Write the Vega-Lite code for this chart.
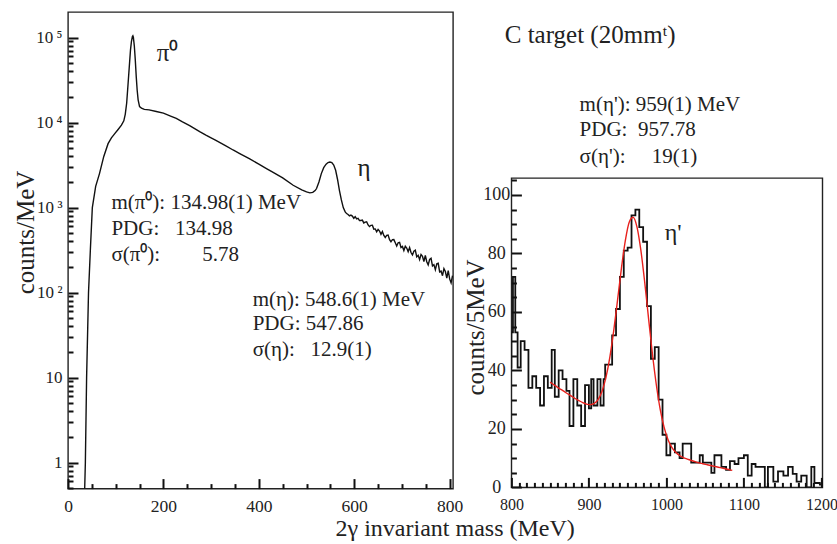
{
  "$schema": "https://vega.github.io/schema/vega-lite/v6.json",
  "background": "white",
  "padding": {"left": 12, "top": 11, "right": 0, "bottom": 5},
  "config": {
    "font": "Liberation Serif",
    "view": {"stroke": "#222", "strokeWidth": 1.4},
    "text": {"font": "Liberation Serif", "color": "#222"},
    "axis": {"labelFont": "Liberation Serif", "titleFont": "Liberation Serif", "titleFontWeight": "normal", "labelColor": "#222", "titleColor": "#222", "grid": false, "labelFontSize": 17.5, "labelFlush": false}
  },
  "datasets": {
    "spectrum": [
      {"m": 34, "c": 0.3}, {"m": 36.4, "c": 1}, {"m": 39, "c": 10}, {"m": 43, "c": 100}, {"m": 47, "c": 330}, {"m": 51, "c": 1000}, {"m": 58, "c": 1780}, {"m": 66, "c": 2510}, {"m": 75, "c": 4000}, {"m": 84, "c": 5650}, {"m": 91, "c": 6600}, {"m": 98, "c": 7420}, {"m": 105, "c": 8300}, {"m": 112, "c": 9330}, {"m": 117, "c": 10500}, {"m": 120, "c": 12500}, {"m": 123, "c": 17000}, {"m": 126, "c": 29000}, {"m": 129, "c": 50000}, {"m": 131, "c": 71700}, {"m": 133, "c": 90000}, {"m": 135, "c": 103000}, {"m": 136, "c": 105000}, {"m": 137, "c": 101000}, {"m": 139, "c": 80000}, {"m": 141, "c": 55000}, {"m": 143, "c": 35000}, {"m": 145, "c": 24000}, {"m": 147, "c": 18500}, {"m": 150, "c": 15400}, {"m": 154, "c": 14800}, {"m": 160, "c": 14300}, {"m": 170, "c": 14100}, {"m": 185, "c": 13500}, {"m": 200, "c": 12900}, {"m": 215, "c": 11900}, {"m": 227, "c": 11200}, {"m": 240, "c": 10200}, {"m": 255, "c": 9230}, {"m": 276, "c": 7840}, {"m": 290, "c": 7080}, {"m": 310, "c": 6170}, {"m": 330, "c": 5370}, {"m": 346, "c": 4760}, {"m": 360, "c": 4320}, {"m": 380, "c": 3760}, {"m": 400, "c": 3240}, {"m": 416, "c": 2880}, {"m": 430, "c": 2600}, {"m": 450, "c": 2240}, {"m": 472, "c": 1830}, {"m": 490, "c": 1620}, {"m": 500, "c": 1530}, {"m": 507, "c": 1490}, {"m": 513, "c": 1510}, {"m": 518, "c": 1585}, {"m": 521, "c": 1675}, {"m": 526, "c": 2000}, {"m": 531, "c": 2510}, {"m": 536, "c": 2950}, {"m": 541, "c": 3240}, {"m": 545, "c": 3390}, {"m": 549, "c": 3440}, {"m": 553, "c": 3390}, {"m": 557, "c": 3160}, {"m": 561, "c": 2750}, {"m": 565, "c": 2140}, {"m": 569, "c": 1585}, {"m": 573, "c": 1230}, {"m": 577, "c": 1000}, {"m": 581, "c": 890}, {"m": 584, "c": 850},
      {"m": 587, "c": 830}, {"m": 590, "c": 799}, {"m": 593, "c": 816}, {"m": 596, "c": 794}, {"m": 599, "c": 749}, {"m": 602, "c": 781}, {"m": 605, "c": 737}, {"m": 608, "c": 746}, {"m": 611, "c": 704}, {"m": 614, "c": 705}, {"m": 617, "c": 713}, {"m": 620, "c": 660}, {"m": 623, "c": 675}, {"m": 626, "c": 681}, {"m": 629, "c": 625}, {"m": 632, "c": 597}, {"m": 635, "c": 618}, {"m": 638, "c": 620}, {"m": 641, "c": 558}, {"m": 644, "c": 561}, {"m": 647, "c": 519}, {"m": 650, "c": 553}, {"m": 653, "c": 529}, {"m": 656, "c": 485}, {"m": 659, "c": 522}, {"m": 662, "c": 470}, {"m": 665, "c": 445}, {"m": 668, "c": 470}, {"m": 671, "c": 475}, {"m": 674, "c": 420}, {"m": 677, "c": 396}, {"m": 680, "c": 419}, {"m": 683, "c": 420}, {"m": 686, "c": 386}, {"m": 689, "c": 353}, {"m": 692, "c": 385}, {"m": 695, "c": 390}, {"m": 698, "c": 339}, {"m": 701, "c": 349}, {"m": 704, "c": 312}, {"m": 707, "c": 351}, {"m": 710, "c": 334}, {"m": 713, "c": 302}, {"m": 716, "c": 339}, {"m": 719, "c": 296}, {"m": 722, "c": 277}, {"m": 725, "c": 307}, {"m": 728, "c": 315}, {"m": 731, "c": 263}, {"m": 734, "c": 274}, {"m": 737, "c": 244}, {"m": 740, "c": 281}, {"m": 743, "c": 267}, {"m": 746, "c": 232}, {"m": 749, "c": 273}, {"m": 752, "c": 231}, {"m": 755, "c": 212}, {"m": 758, "c": 245}, {"m": 761, "c": 253}, {"m": 764, "c": 206}, {"m": 767, "c": 213}, {"m": 770, "c": 186}, {"m": 773, "c": 218}, {"m": 776, "c": 221}, {"m": 779, "c": 175}, {"m": 782, "c": 179}, {"m": 785, "c": 158}, {"m": 788, "c": 191}, {"m": 791, "c": 177}, {"m": 794, "c": 148}, {"m": 797, "c": 181}, {"m": 800, "c": 145}, {"m": 803, "c": 130}, {"m": 806, "c": 158}
    ],
    "leftPeaks": [
      {"m": 186, "c": 65300, "t": "π⁰"},
      {"m": 607, "c": 2900, "t": "η"}
    ],
    "leftStats": [
      {"m": 91, "c": 1124, "t": "m(π⁰): 134.98(1) MeV"},
      {"m": 91, "c": 556, "t": "PDG:\u00a0\u2007134.98"},
      {"m": 91, "c": 275, "t": "σ(π⁰):\u2007\u2007\u2007\u20075.78"},
      {"m": 387, "c": 81.2, "t": "m(η): 548.6(1) MeV"},
      {"m": 387, "c": 42.4, "t": "PDG: 547.86"},
      {"m": 387, "c": 20.9, "t": "σ(η):\u00a0\u200712.9(1)"}
    ],
    "hist": [
      {"m": 797, "n": 41}, {"m": 800, "n": 53}, {"m": 802, "n": 72}, {"m": 805, "n": 53}, {"m": 808, "n": 41}, {"m": 812, "n": 50}, {"m": 817, "n": 47}, {"m": 822, "n": 34}, {"m": 827, "n": 38}, {"m": 832, "n": 34}, {"m": 837, "n": 28}, {"m": 842, "n": 38}, {"m": 847, "n": 34}, {"m": 852, "n": 47}, {"m": 856, "n": 31}, {"m": 861, "n": 40}, {"m": 866, "n": 37}, {"m": 871, "n": 33}, {"m": 875, "n": 21}, {"m": 880, "n": 37}, {"m": 885, "n": 28}, {"m": 890, "n": 21}, {"m": 895, "n": 35}, {"m": 900, "n": 27}, {"m": 903, "n": 37}, {"m": 906, "n": 28}, {"m": 911, "n": 37}, {"m": 915, "n": 28}, {"m": 919, "n": 37}, {"m": 921, "n": 42}, {"m": 925, "n": 42}, {"m": 930, "n": 52}, {"m": 935, "n": 61}, {"m": 940, "n": 72}, {"m": 945, "n": 81}, {"m": 950, "n": 82}, {"m": 955, "n": 93}, {"m": 960, "n": 95}, {"m": 965, "n": 89}, {"m": 970, "n": 84}, {"m": 975, "n": 62}, {"m": 980, "n": 44}, {"m": 985, "n": 48}, {"m": 990, "n": 30}, {"m": 995, "n": 18}, {"m": 1000, "n": 11}, {"m": 1005, "n": 15}, {"m": 1011, "n": 12}, {"m": 1017, "n": 10}, {"m": 1021, "n": 15}, {"m": 1032, "n": 8.5}, {"m": 1043, "n": 11}, {"m": 1047, "n": 8.5}, {"m": 1058, "n": 5}, {"m": 1062, "n": 11}, {"m": 1071, "n": 7}, {"m": 1077, "n": 6}, {"m": 1082, "n": 9}, {"m": 1088, "n": 8}, {"m": 1093, "n": 10}, {"m": 1100, "n": 11}, {"m": 1105, "n": 4}, {"m": 1110, "n": 8}, {"m": 1115, "n": 7}, {"m": 1120, "n": 7}, {"m": 1127, "n": 0}, {"m": 1131, "n": 7}, {"m": 1138, "n": 2}, {"m": 1144, "n": 5.5}, {"m": 1151, "n": 4}, {"m": 1157, "n": 7}, {"m": 1163, "n": 4.6}, {"m": 1168, "n": 2}, {"m": 1174, "n": 4}, {"m": 1181, "n": 0}, {"m": 1187, "n": 7}, {"m": 1191, "n": 1.5}, {"m": 1198, "n": 1}, {"m": 1202, "n": 1}
    ],
    "fit": [
      {"m": 850, "n": 36.0}, {"m": 852, "n": 35.6}, {"m": 857, "n": 34.7}, {"m": 862, "n": 33.8}, {"m": 867, "n": 33.0}, {"m": 872, "n": 32.1}, {"m": 877, "n": 31.3}, {"m": 882, "n": 30.4}, {"m": 887, "n": 29.7}, {"m": 892, "n": 29.0}, {"m": 897, "n": 28.5}, {"m": 902, "n": 28.3}, {"m": 907, "n": 28.7}, {"m": 912, "n": 30.1}, {"m": 917, "n": 32.9}, {"m": 922, "n": 37.6}, {"m": 927, "n": 44.5}, {"m": 932, "n": 53.5}, {"m": 937, "n": 64.1}, {"m": 942, "n": 75.0}, {"m": 947, "n": 84.4}, {"m": 952, "n": 90.7}, {"m": 957, "n": 92.4}, {"m": 962, "n": 89.1}, {"m": 967, "n": 81.2}, {"m": 972, "n": 70.2}, {"m": 977, "n": 57.7}, {"m": 982, "n": 45.6}, {"m": 987, "n": 35.1}, {"m": 992, "n": 26.7}, {"m": 997, "n": 20.6}, {"m": 1002, "n": 16.4}, {"m": 1007, "n": 13.7}, {"m": 1012, "n": 12.0}, {"m": 1017, "n": 10.9}, {"m": 1022, "n": 10.2}, {"m": 1027, "n": 9.7}, {"m": 1032, "n": 9.2}, {"m": 1037, "n": 8.8}, {"m": 1042, "n": 8.4}, {"m": 1047, "n": 8.1}, {"m": 1052, "n": 7.8}, {"m": 1057, "n": 7.5}, {"m": 1062, "n": 7.2}, {"m": 1067, "n": 6.9}, {"m": 1072, "n": 6.6}, {"m": 1077, "n": 6.3}, {"m": 1082, "n": 6.0}, {"m": 1085, "n": 5.8}
    ],
    "rightPeak": [{"m": 997.8, "n": 87.1, "t": "η'"}],
    "rtTitle": [{"tx": 791.4, "ty": 154.5, "t": "C target (20mmᵗ)"}],
    "rtStats": [
      {"tx": 888, "ty": 130.5, "t": "m(η'): 959(1) MeV"},
      {"tx": 888, "ty": 122.0, "t": "PDG:\u00a0\u00a0957.78"},
      {"tx": 888, "ty": 112.8, "t": "σ(η'):\u00a0\u2007\u200719(1)"}
    ]
  },
  "bounds": "flush",
  "spacing": 58.4,
  "resolve": {"scale": {"x": "independent", "y": "independent"}},
  "hconcat": [
    {
      "width": 385,
      "height": 476.6,
      "resolve": {"axis": {"x": "independent", "y": "independent"}},
      "layer": [
        {
          "data": {"name": "spectrum"},
          "mark": {"type": "line", "color": "#111", "strokeWidth": 1.4, "clip": true},
          "encoding": {
            "x": {
              "field": "m", "type": "quantitative",
              "scale": {"domain": [0, 807], "nice": false, "zero": false},
              "axis": {
                "orient": "bottom", "tickSize": -10, "tickColor": "#111", "tickWidth": 2, "domain": false, "labelFlush": false,
                "title": "2γ invariant mass (MeV)", "titleFontSize": 24, "titleX": 386.7, "titleY": 47, "titleAlign": "center", "titleBaseline": "alphabetic",
                "values": [0, 200, 400, 600, 800],
                "labelPadding": 19
              }
            },
            "y": {
              "field": "c", "type": "quantitative",
              "scale": {"type": "log", "domain": [0.494, 200000], "nice": false},
              "axis": {
                "orient": "left", "tickSize": -10, "tickColor": "#111", "tickWidth": 2, "domain": false, "labelFlush": false,
                "title": "counts/MeV", "titleFontSize": 25, "titleAngle": -90, "titleX": -43, "titleY": 220, "titleAlign": "center", "titleBaseline": "middle",
                "values": [1, 10, 100, 1000, 10000, 100000],
                "labelExpr": "datum.value == 1 ? '1' : datum.value == 10 ? '10' : datum.value == 100 ? '10\u2009²' : datum.value == 1000 ? '10\u2009³' : datum.value == 10000 ? '10\u2009⁴' : '10\u2009⁵'",
                "labelPadding": 16, "labelBaseline": "middle", "labelFontSize": 17
              }
            }
          }
        },
        {
          "data": {"name": "leftPeaks"},
          "mark": {"type": "text", "align": "left", "baseline": "middle", "fontSize": 25},
          "encoding": {
            "x": {"field": "m", "type": "quantitative", "axis": null},
            "y": {"field": "c", "type": "quantitative", "axis": null},
            "text": {"field": "t"}
          }
        },
        {
          "data": {"name": "leftStats"},
          "mark": {"type": "text", "align": "left", "baseline": "middle", "fontSize": 21},
          "encoding": {
            "x": {
              "field": "m", "type": "quantitative",
              "axis": {"orient": "bottom", "tickSize": -5, "tickColor": "#111", "tickWidth": 2, "domain": false, "labels": false, "title": null,
                "values": [50, 100, 150, 250, 300, 350, 450, 500, 550, 650, 700, 750]}
            },
            "y": {
              "field": "c", "type": "quantitative",
              "axis": {"orient": "left", "tickSize": -5, "tickColor": "#111", "tickWidth": 2, "domain": false, "labels": false, "title": null,
                "values": [0.5, 0.6, 0.7, 0.8, 0.9, 2, 3, 4, 5, 6, 7, 8, 9, 20, 30, 40, 50, 60, 70, 80, 90, 200, 300, 400, 500, 600, 700, 800, 900, 2000, 3000, 4000, 5000, 6000, 7000, 8000, 9000, 20000, 30000, 40000, 50000, 60000, 70000, 80000, 90000]}
            },
            "text": {"field": "t"}
          }
        }
      ]
    },
    {
      "vconcat": [
        {
          "width": 311,
          "height": 165.6,
          "view": {"stroke": null},
          "layer": [
            {
              "data": {"name": "rtTitle"},
              "mark": {"type": "text", "align": "left", "baseline": "middle", "fontSize": 25},
              "encoding": {
                "x": {"field": "tx", "type": "quantitative", "scale": {"domain": [800, 1201.3], "nice": false, "zero": false}, "axis": null},
                "y": {"field": "ty", "type": "quantitative", "scale": {"domain": [105.8, 162.4], "nice": false, "zero": false}, "axis": null},
                "text": {"field": "t"}
              }
            },
            {
              "data": {"name": "rtStats"},
              "mark": {"type": "text", "align": "left", "baseline": "middle", "fontSize": 21},
              "encoding": {
                "x": {"field": "tx", "type": "quantitative", "axis": null},
                "y": {"field": "ty", "type": "quantitative", "axis": null},
                "text": {"field": "t"}
              }
            }
          ]
        },
        {
          "width": 311,
          "height": 309.4,
          "resolve": {"axis": {"x": "independent", "y": "independent"}},
          "layer": [
            {
              "data": {"name": "hist"},
              "mark": {"type": "line", "color": "#111", "strokeWidth": 1.8, "interpolate": "step-after", "clip": true},
              "encoding": {
                "x": {
                  "field": "m", "type": "quantitative",
                  "scale": {"domain": [800, 1201.3], "nice": false, "zero": false},
                  "axis": {
                    "orient": "bottom", "tickSize": -10, "tickColor": "#111", "tickWidth": 2, "domain": false, "labelFlush": false,
                    "title": null, "format": "d",
                    "values": [800, 900, 1000, 1100, 1200],
                    "labelPadding": 19, "labelFontSize": 16
                  }
                },
                "y": {
                  "field": "n", "type": "quantitative",
                  "scale": {"domain": [0, 105.8], "nice": false, "zero": false},
                  "axis": {
                    "orient": "left", "tickSize": -10, "tickColor": "#111", "tickWidth": 2, "domain": false, "labelFlush": false,
                    "title": "counts/5MeV", "titleFontSize": 25, "titleAngle": -90, "titleX": -35.7, "titleY": 149, "titleAlign": "center", "titleBaseline": "middle",
                    "values": [0, 20, 40, 60, 80, 100],
                    "labelPadding": 25.2, "labelAlign": "center", "labelBaseline": "middle", "labelFontSize": 18
                  }
                }
              }
            },
            {
              "data": {"name": "fit"},
              "mark": {"type": "line", "color": "#e8211d", "strokeWidth": 1.4, "interpolate": "monotone", "clip": true},
              "encoding": {
                "x": {
                  "field": "m", "type": "quantitative",
                  "axis": {"orient": "bottom", "tickSize": -5, "tickColor": "#111", "tickWidth": 2, "domain": false, "labels": false, "title": null,
                    "values": [810, 820, 830, 840, 850, 860, 870, 880, 890, 910, 920, 930, 940, 950, 960, 970, 980, 990, 1010, 1020, 1030, 1040, 1050, 1060, 1070, 1080, 1090, 1110, 1120, 1130, 1140, 1150, 1160, 1170, 1180, 1190]}
                },
                "y": {
                  "field": "n", "type": "quantitative",
                  "axis": {"orient": "left", "tickSize": -5, "tickColor": "#111", "tickWidth": 2, "domain": false, "labels": false, "title": null,
                    "values": [5, 10, 15, 25, 30, 35, 45, 50, 55, 65, 70, 75, 85, 90, 95, 105]}
                }
              }
            },
            {
              "data": {"name": "rightPeak"},
              "mark": {"type": "text", "align": "left", "baseline": "middle", "fontSize": 24},
              "encoding": {
                "x": {"field": "m", "type": "quantitative", "axis": null},
                "y": {"field": "n", "type": "quantitative", "axis": null},
                "text": {"field": "t"}
              }
            }
          ]
        }
      ],
      "spacing": 0,
      "bounds": "flush",
      "resolve": {"scale": {"x": "independent", "y": "independent"}}
    }
  ]
}
